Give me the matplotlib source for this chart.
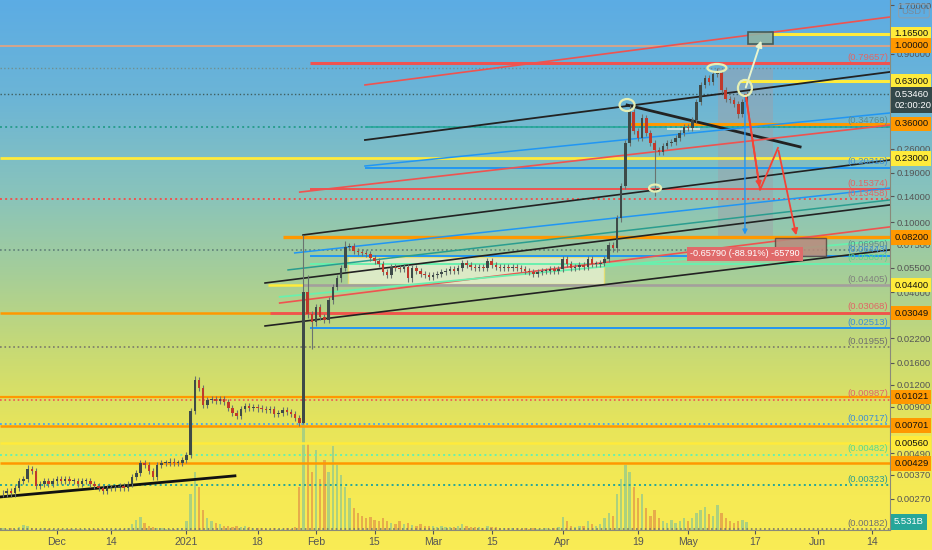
import numpy as np
import matplotlib
matplotlib.use("Agg")
import matplotlib.pyplot as plt
import matplotlib.transforms as mtransforms
from matplotlib.patches import Rectangle, Ellipse
from matplotlib.ticker import NullLocator, FixedLocator
import datetime as dt

plt.rcParams["font.family"] = ["Liberation Sans", "DejaVu Sans"]

# ---------------- data ----------------
ORIGIN = dt.date(2020, 12, 1)
first_day = -14  # 2020-11-17

closes = [0.0029, 0.0029, 0.0030, 0.0029, 0.0031, 0.0034, 0.0035, 0.0040, 0.0039, 0.0032, 0.0033, 0.0034, 0.0033, 0.0034,
          0.0035, 0.0034, 0.0035, 0.0034, 0.0034, 0.0033, 0.0034, 0.0034, 0.0033, 0.0032,
          0.0031, 0.0030, 0.0031, 0.0031, 0.0031, 0.0032, 0.0031, 0.0033, 0.0036, 0.0038,
          0.0043, 0.0042, 0.0039, 0.0036, 0.0042, 0.0043, 0.0043, 0.0044, 0.0043, 0.0043,
          0.0045, 0.0048, 0.0085, 0.0128, 0.0115, 0.0092, 0.0098, 0.0100, 0.0097, 0.0099,
          0.0096, 0.0089, 0.0083, 0.0080, 0.0087, 0.0091, 0.0089, 0.0090, 0.0088, 0.0087,
          0.0086, 0.0087, 0.0082, 0.0083, 0.0086, 0.0084, 0.0082, 0.0078, 0.0073, 0.040,
          0.030, 0.027, 0.033, 0.029, 0.028, 0.036, 0.043, 0.048, 0.055, 0.072,
          0.073, 0.069, 0.068, 0.067, 0.066, 0.063, 0.060, 0.058, 0.052, 0.050,
          0.056, 0.055, 0.054, 0.056, 0.048, 0.055, 0.053, 0.051, 0.050, 0.049,
          0.050, 0.051, 0.052, 0.053, 0.054, 0.053, 0.055, 0.059, 0.057, 0.056,
          0.055, 0.056, 0.055, 0.060, 0.057, 0.056, 0.055, 0.056, 0.055, 0.056,
          0.055, 0.054, 0.053, 0.052, 0.051, 0.052, 0.053, 0.053, 0.054, 0.053,
          0.054, 0.062, 0.058, 0.055, 0.056, 0.057, 0.056, 0.062, 0.058, 0.058,
          0.059, 0.062, 0.074, 0.071, 0.105, 0.160, 0.280, 0.420, 0.330, 0.300,
          0.390, 0.320, 0.280, 0.255, 0.250, 0.270, 0.280, 0.285, 0.300, 0.320,
          0.345, 0.340, 0.380, 0.480, 0.600, 0.660, 0.620, 0.690, 0.700, 0.560,
          0.500, 0.490, 0.470, 0.410, 0.480, 0.5346]

volumes = [1.0, 1.2, 0.8, 1.5, 1.0, 2.0, 3.5, 2.5, 1.5, 1.0, 1.0, 1.2, 1.0, 0.8,
           1.0, 0.8, 1.0, 0.7, 0.8, 0.6, 0.7, 0.8, 0.6, 0.7,
           0.8, 1.0, 0.7, 0.6, 0.8, 0.7, 0.9, 1.5, 4.0, 7.0,
           9.0, 5.0, 3.0, 2.0, 1.5, 1.2, 1.0, 1.0, 0.8, 1.2,
           1.5, 6.0, 25.0, 40.0, 30.0, 14.0, 8.0, 6.0, 5.0, 4.0,
           3.0, 2.5, 2.0, 3.0, 2.0, 2.5, 2.0, 1.5, 1.5, 1.2,
           1.0, 1.0, 1.2, 1.0, 1.0, 1.5, 1.0, 2.0, 30.0, 90.0,
           60.0, 40.0, 55.0, 35.0, 48.0, 40.0, 58.0, 45.0, 38.0, 30.0,
           22.0, 15.0, 12.0, 10.0, 8.0, 9.0, 7.0, 6.0, 8.0, 6.0,
           5.0, 4.0, 6.0, 4.0, 5.0, 3.5, 3.0, 4.0, 3.0, 2.5,
           2.5, 2.0, 2.5, 2.0, 1.8, 2.0, 2.5, 4.0, 3.0, 2.0,
           2.0, 1.8, 1.5, 3.0, 2.0, 1.8, 1.5, 1.5, 1.2, 1.5,
           1.2, 1.0, 1.2, 1.0, 1.2, 1.0, 1.0, 1.2, 1.0, 1.5,
           2.0, 9.0, 6.0, 2.5, 2.0, 2.5, 3.0, 6.0, 4.0, 3.0,
           4.0, 8.0, 12.0, 10.0, 25.0, 35.0, 45.0, 40.0, 30.0, 22.0,
           25.0, 15.0, 10.0, 14.0, 8.0, 6.0, 5.0, 7.0, 5.0, 6.0,
           8.0, 6.0, 8.0, 12.0, 14.0, 16.0, 11.0, 10.0, 17.0, 12.0,
           8.0, 6.0, 5.0, 6.0, 7.0, 5.531]

# notable wick extremes (day index -> price)
high_marks = {-7: 0.0042, 33: 0.0135, 59: 0.085, 60: 0.050, 69: 0.078, 137: 0.46, 140: 0.41, 158: 0.75}
low_marks = {59: 0.0072, 61: 0.019, 143: 0.14, 163: 0.39}

tick_dates = ["2020-12-01", "2020-12-14", "2021-01-01", "2021-01-18", "2021-02-01", "2021-02-15",
              "2021-03-01", "2021-03-15", "2021-04-01", "2021-04-19", "2021-05-01", "2021-05-17",
              "2021-06-01", "2021-06-14"]
tick_labels = ["Dec", "14", "2021", "18", "Feb", "15", "Mar", "15", "Apr", "19", "May", "17", "Jun", "14"]

price_ticks = [1.7, 0.9, 0.35, 0.26, 0.19, 0.14, 0.10, 0.075, 0.055, 0.04, 0.022, 0.016, 0.012,
               0.009, 0.0049, 0.0037, 0.0027]

# horizontal levels: price, colour, style, width, start day (None = full)
level_prices = [1.0, 0.75, 0.5346, 0.34769, 0.23, 0.13458, 0.0695, 0.03049, 0.01955, 0.01021,
                0.00987, 0.00717, 0.00701, 0.0056, 0.00482, 0.00429, 0.00323, 0.00182,
                1.165, 0.79657, 0.63, 0.36, 0.34769, 0.20318, 0.15374, 0.082, 0.06443,
                0.05807, 0.044, 0.04405, 0.03068, 0.02513]
level_style = [("#e9a27e", "-", 1.2, None), ("#6f8f90", ":", 1.0, None), ("#3f5f60", ":", 1.0, None),
               ("#2a9d8f", ":", 1.4, None), ("#ffeb3b", "-", 2.0, None), ("#ef5350", ":", 1.4, None),
               ("#5f8078", ":", 1.2, None), ("#ff9800", "-", 1.8, None), ("#7a7a6a", ":", 1.2, None),
               ("#ff9800", "-", 1.6, None), ("#ef5350", ":", 1.2, None), ("#42a5f5", ":", 1.3, None),
               ("#ff9800", "-", 1.8, None), ("#ffeb3b", "-", 1.8, None), ("#69f0ae", ":", 1.4, None),
               ("#ff9800", "-", 1.8, None), ("#26a69a", ":", 1.4, None), ("#7a7a6a", ":", 1.2, None),
               ("#ffeb3b", "-", 2.2, 170.6), ("#ef5350", "-", 2.2, 60.5), ("#ffeb3b", "-", 2.2, 163.4),
               ("#ff9800", "-", 2.2, 137.0), ("#26a69a", "-", 1.2, 73.7), ("#2196f3", "-", 1.4, 73.7),
               ("#ef5350", "-", 1.4, 60.5), ("#ff9800", "-", 2.4, 54.0), ("#2196f3", "-", 1.4, 60.5),
               ("#69f0ae", "-", 1.4, 60.5), ("#ffeb3b", "-", 1.8, 50.5), ("#a0a0a0", "-", 2.0, 59.0),
               ("#ef5350", "-", 2.0, 51.0), ("#2196f3", "-", 1.4, 60.5)]

# level captions drawn left of the price scale
caption_prices = [0.79657, 0.34769, 0.20318, 0.15374, 0.13458, 0.0695, 0.06443, 0.05807, 0.04405,
                  0.03068, 0.02513, 0.01955, 0.00987, 0.00717, 0.00482, 0.00323, 0.00182]
caption_colors = ["#e06666", "#5e8c8c", "#3d8fd6", "#e06666", "#e06666", "#5e8c8c", "#3d8fd6", "#5ad98a",
                  "#808080", "#e06666", "#3d8fd6", "#707070", "#e06666", "#3d8fd6", "#5ad98a",
                  "#2a9d8f", "#707070"]

# price-scale badges
badge_prices = [1.165, 1.0, 0.63, 0.36, 0.23, 0.082, 0.044, 0.03049, 0.01021, 0.00701, 0.0056, 0.00429]
badge_colors = ["#ffeb3b", "#ff9800", "#ffeb3b", "#ff9800", "#ffeb3b", "#ff9800", "#ffeb3b",
                "#ff9800", "#ff9800", "#ff9800", "#ffeb3b", "#ff9800"]
last_price = 0.5346
countdown = "02:00:20"
last_volume = 5.531

# trend / channel lines: (day1, price1, day2, price2)
trend_lines = [(-13.6, 0.00277, 42.6, 0.00365), (49.8, 0.0258, 199.3, 0.0696), (49.8, 0.0452, 199.3, 0.1252),
               (58.9, 0.0846, 199.3, 0.225), (73.7, 0.292, 199.3, 0.71), (136.4, 0.461, 177.8, 0.267),
               (73.7, 0.599, 199.3, 1.454), (58.1, 0.148, 199.3, 0.355), (53.3, 0.0348, 199.3, 0.094),
               (56.9, 0.0669, 199.3, 0.156), (55.3, 0.0536, 199.3, 0.1336), (73.7, 0.208, 199.3, 0.4157),
               (53.3, 0.0377, 199.3, 0.0793)]
trend_style = [("#111111", 2.0), ("#222222", 1.2), ("#222222", 1.2), ("#222222", 1.2), ("#222222", 1.3),
               ("#222222", 2.0), ("#ef5350", 1.2), ("#ef5350", 1.2), ("#ef5350", 1.2), ("#2196f3", 1.1),
               ("#2a9d8f", 1.1), ("#2196f3", 1.1), ("#69f0ae", 1.3)]

# projection drawings
measure_box = (158.1, 171.3, 0.0805, 0.7475)
measure_text = "-0.65790 (-88.91%) -65790"
target_box = (171.8, 184.0, 0.0644, 0.0814)
top_box = (165.3, 171.3, 1.022, 1.196)
path_days = [164.8, 168.2, 172.5, 177.0]
path_prices = [0.5256, 0.1522, 0.2633, 0.0813]
circle_days = [136.4, 157.9, 164.6, 143.1]
circle_prices = [0.461, 0.7475, 0.576, 0.156]
circle_sizes = [(0.15, 0.12), (0.19, 0.08), (0.14, 0.16), (0.12, 0.07)]
zone_box = (69.6, 131.0, 0.0446, 0.0634)

# ---------------- figure ----------------
W, H = 932, 550
fig = plt.figure(figsize=(W / 100, H / 100), dpi=100)

bg = fig.add_axes([0, 0, 1, 1], zorder=-10)
stops = [(0.0, (92, 172, 228)), (0.18, (108, 181, 214)), (0.36, (138, 196, 186)), (0.5, (166, 206, 152)),
         (0.64, (200, 218, 116)), (0.78, (232, 229, 90)), (0.9, (246, 234, 84)), (1.0, (249, 236, 84))]
fr = np.linspace(0, 1, H)
grad = np.zeros((H, 1, 3))
for k in range(3):
    grad[:, 0, k] = np.interp(fr, [s[0] for s in stops], [s[1][k] for s in stops]) / 255
bg.imshow(grad, aspect="auto", extent=[0, 1, 0, 1])
bg.axis("off")

ax = fig.add_axes([0, 20 / H, 890 / W, 530 / H])
vax = ax.twinx()
ax.set_zorder(2)
vax.set_zorder(1)
ax.patch.set_visible(False)
vax.patch.set_visible(False)

days = np.arange(first_day, first_day + len(closes))
opens = [closes[0]] + closes[:-1]
XMIN, XMAX = -13.6, 199.3
YMIN, YMAX = 0.0018, 1.815

# volume
vcol = ["#9fcd86" if c >= o else "#e5a24a" for o, c in zip(opens, closes)]
vax.bar(days, volumes, width=0.55, color=vcol, alpha=0.85, linewidth=0)
vax.set_ylim(0, 366)
vax.set_yticks([])
for s in vax.spines.values():
    s.set_visible(False)

ax.set_yscale("log")
ax.set_xlim(XMIN, XMAX)
ax.set_ylim(YMIN, YMAX)

# zone & boxes (behind)
ax.add_patch(Rectangle((zone_box[0], zone_box[2]), zone_box[1] - zone_box[0], zone_box[3] - zone_box[2],
                       facecolor="#eef4d6", alpha=0.75, edgecolor="#f0e060", lw=1, zorder=1))
ax.add_patch(Rectangle((measure_box[0], measure_box[2]), measure_box[1] - measure_box[0],
                       measure_box[3] - measure_box[2], facecolor="#a0a0a8", alpha=0.45,
                       edgecolor="none", zorder=1))
ax.add_patch(Rectangle((146.0, 0.333), 7.8, 0.022, facecolor="#f4f4e8", alpha=0.7, edgecolor="none", zorder=1))

# horizontal levels
for p, (col, ls, lw, start) in zip(level_prices, level_style):
    x0 = XMIN if start is None else start
    ax.plot([x0, XMAX], [p, p], color=col, ls=ls, lw=lw, zorder=2, solid_capstyle="butt")

# trend lines
for (d1, p1, d2, p2), (col, lw) in zip(trend_lines, trend_style):
    ax.plot([d1, d2], [p1, p2], color=col, lw=lw, zorder=3)

# candles
highs, lows = [], []
for d, o, c in zip(days, opens, closes):
    highs.append(high_marks.get(int(d), max(o, c) * 1.04))
    lows.append(low_marks.get(int(d), min(o, c) * 0.96))
up = [c >= o for o, c in zip(opens, closes)]
ccol = ["#3e4a48" if u else "#c0392b" for u in up]
ax.vlines(days, lows, highs, colors="#6a7370", lw=0.8, zorder=4)
bottoms = [min(o, c) for o, c in zip(opens, closes)]
heights = [max(abs(c - o), min(o, c) * 0.012) for o, c in zip(opens, closes)]
ax.bar(days, heights, bottom=bottoms, width=0.6, color=ccol, linewidth=0, zorder=5)

# boxes
ax.add_patch(Rectangle((target_box[0], target_box[2]), target_box[1] - target_box[0], target_box[3] - target_box[2],
                       facecolor="#b98a7c", alpha=0.85, edgecolor="#5a4a40", lw=1, zorder=6))
ax.add_patch(Rectangle((top_box[0], top_box[2]), top_box[1] - top_box[0], top_box[3] - top_box[2],
                       facecolor="#8fb3a3", alpha=0.9, edgecolor="#3e5450", lw=1.2, zorder=6))

# arrows
ax.annotate("", xy=(164.6, 0.082), xytext=(164.6, last_price),
            arrowprops=dict(arrowstyle="-|>", color="#2196f3", lw=1, mutation_scale=7), zorder=7)
ax.annotate("", xy=(168.7, 1.106), xytext=(164.6, 0.56),
            arrowprops=dict(arrowstyle="-|>", color="#e9f5cf", lw=1.4, mutation_scale=9), zorder=7)
ax.plot(path_days[:-1], path_prices[:-1], color="#f44336", lw=1.3, zorder=7)
ax.annotate("", xy=(path_days[-1], path_prices[-1]), xytext=(path_days[-2], path_prices[-2]),
            arrowprops=dict(arrowstyle="-|>", color="#f44336", lw=1.3, mutation_scale=9), zorder=7)
ax.annotate("", xy=(path_days[1], path_prices[1]), xytext=(path_days[0], path_prices[0]),
            arrowprops=dict(arrowstyle="-|>", color="#f44336", lw=1.3, mutation_scale=8), zorder=7)

ax.text(164.6, 0.066, measure_text, ha="center", va="center", fontsize=6.6, color="white", zorder=9,
        bbox=dict(boxstyle="square,pad=0.3", fc="#e06a6a", ec="none"))

# circles
for d, p, (w, h) in zip(circle_days, circle_prices, circle_sizes):
    tr = fig.dpi_scale_trans + mtransforms.ScaledTranslation(d, p, ax.transData)
    ax.add_patch(Ellipse((0, 0), w, h, transform=tr, facecolor="none", edgecolor="#e6efb4", lw=1.6, zorder=8))

# captions
for p, col in zip(caption_prices, caption_colors):
    ax.annotate(f"({p:.5f})", xy=(198.8, p), xytext=(0, 1), textcoords="offset points",
                ha="right", va="bottom", fontsize=6.8, color=col, zorder=9)

# axes styling
for s in ["top", "left"]:
    ax.spines[s].set_visible(False)
ax.spines["right"].set_color("#8a8a7a")
ax.spines["bottom"].set_color("#8a8a7a")
ax.yaxis.tick_right()
ax.yaxis.set_major_locator(FixedLocator(price_ticks))
ax.yaxis.set_minor_locator(NullLocator())
ax.set_yticklabels([f"{t:.5f}" for t in price_ticks])
ax.tick_params(axis="y", colors="#555555", labelsize=6.8, length=3, pad=2)
tick_days = [(dt.date.fromisoformat(s) - ORIGIN).days for s in tick_dates]
ax.set_xticks(tick_days)
ax.set_xticklabels(tick_labels)
ax.tick_params(axis="x", colors="#555555", labelsize=7.6, length=3, pad=2)
ax.xaxis.set_minor_locator(NullLocator())

# badges
yt = mtransforms.blended_transform_factory(ax.transAxes, ax.transData)
bfs = 6.8
for p, col in zip(badge_prices, badge_colors):
    ax.annotate(f"{p:.5f}", xy=(1, p), xycoords=yt, xytext=(3, 0), textcoords="offset points",
                ha="left", va="center", fontsize=bfs, color="#111111", zorder=20, annotation_clip=False,
                bbox=dict(boxstyle="square,pad=0.3", fc=col, ec="none"))
ax.annotate(f"{last_price:.5f}\n{countdown}", xy=(1, last_price), xycoords=yt, xytext=(3, -4.5),
            textcoords="offset points", ha="left", va="center", fontsize=bfs, color="white", zorder=20,
            annotation_clip=False, linespacing=1.3,
            bbox=dict(boxstyle="square,pad=0.35", fc="#34484a", ec="none"))
vyt = mtransforms.blended_transform_factory(vax.transAxes, vax.transData)
vax.annotate(f"{last_volume:.3f}B", xy=(1, last_volume), xycoords=vyt, xytext=(3, 0), textcoords="offset points",
             ha="left", va="center", fontsize=bfs, color="white", zorder=20, annotation_clip=False,
             bbox=dict(boxstyle="square,pad=0.35", fc="#26a69a", ec="none"))

fig.text(914 / W, 1 - 11 / H, "USDT", ha="center", va="center", fontsize=6.8, color="#7a8a9a",
         bbox=dict(boxstyle="round,pad=0.25", fc="none", ec="#8aa0b0", lw=0.8))

fig.savefig("out.png", dpi=100)
